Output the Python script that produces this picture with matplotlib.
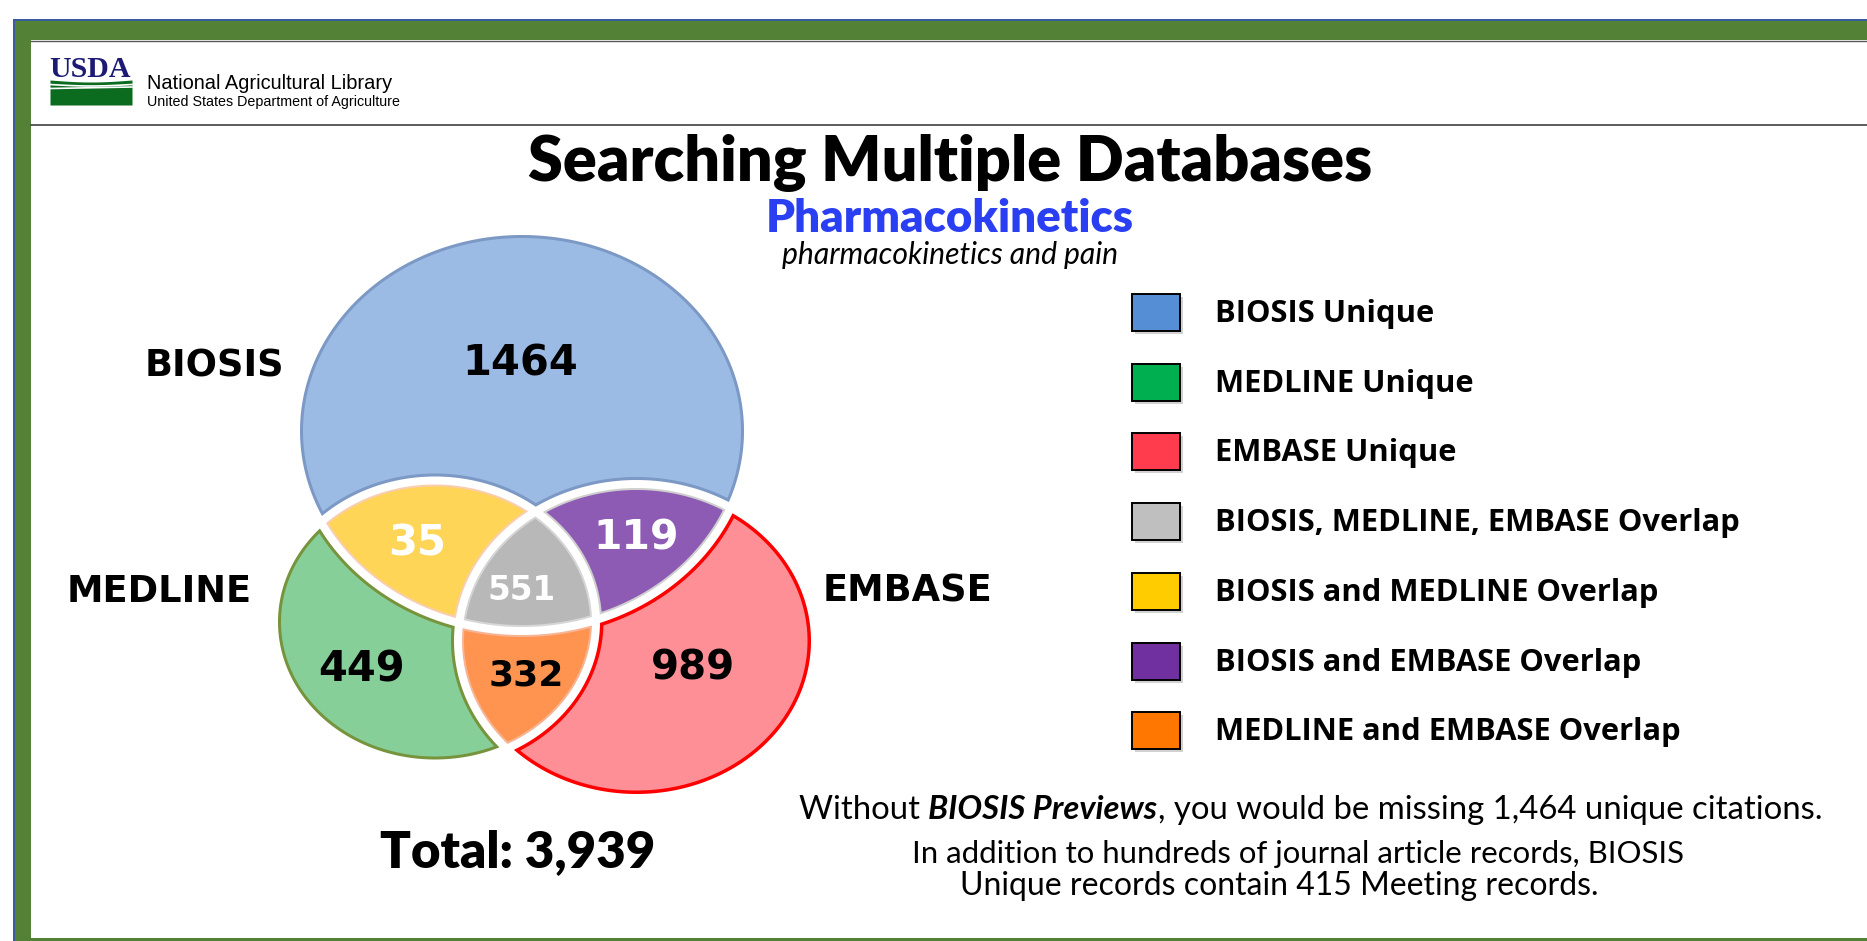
import numpy as np
import matplotlib.pyplot as plt
from matplotlib.patches import Rectangle

W, H = 1867, 941

# data
db_names = ["BIOSIS", "MEDLINE", "EMBASE"]
regions = ["BIOSIS Unique", "MEDLINE Unique", "EMBASE Unique",
           "BIOSIS, MEDLINE, EMBASE Overlap", "BIOSIS and MEDLINE Overlap",
           "BIOSIS and EMBASE Overlap", "MEDLINE and EMBASE Overlap"]
counts = [1464, 449, 989, 551, 35, 119, 332]
members = [(1, 0, 0), (0, 1, 0), (0, 0, 1), (1, 1, 1), (1, 1, 0), (1, 0, 1), (0, 1, 1)]
meeting_records = 415

# styles
legend_colors = ["#558ED5", "#00B050", "#FF3B4E", "#BFBFBF", "#FFCC00", "#7030A0", "#FF7700"]
venn_fill = ["#9BBAE4", "#86CF98", "#FF8F97", "#B8B8B8", "#FFD557", "#8E5BB4", "#FF9450"]
venn_edge = ["#7C98C4", "#77933C", "#FF0000", "#D6D6D6", "#F9CDB0", "#CFCFCF", "#F7B596"]
edge_w = [3, 3, 3.5, 2, 2, 2, 2]
num_color = ["black", "black", "black", "white", "white", "white", "black"]
num_size = [30, 30, 29, 23.5, 30, 29.5, 26]
green = "#538135"
blue_line = "#3A5BA0"

# layout (pixels)
ellipses = [(522, 431, 226, 200), (435, 622, 161, 141.5), (636.5, 641, 178.5, 157)]
label_pos = [(520, 364), (362, 669), (693, 669), (522, 590), (417, 544), (636, 538), (526, 676)]
name_pos = [(214, 366), (159, 591), (907, 591)]
half_gap = 4.0

fig = plt.figure(figsize=(W / 100, H / 100), dpi=100)
ax = fig.add_axes([0, 0, 1, 1])
ax.set_xlim(0, W)
ax.set_ylim(H, 0)
ax.axis("off")
renderer = fig.canvas.get_renderer()


def fit(t, width):
    bb = t.get_window_extent(renderer)
    t.set_fontsize(t.get_fontsize() * width / bb.width)
    return t


# frame
ax.add_patch(Rectangle((14, 19), W, 2, color=blue_line, lw=0))
ax.add_patch(Rectangle((13, 19), 2, H, color=blue_line, lw=0))
ax.add_patch(Rectangle((15, 21), W, 19, color=green, lw=0))
ax.add_patch(Rectangle((15, 21), 16, H, color=green, lw=0))
ax.add_patch(Rectangle((15, 938), W, 5, color=green, lw=0))
ax.plot([31, W], [40.5, 40.5], color="#5A5A5A", lw=1)
ax.plot([31, W], [125, 125], color="#404040", lw=1.2)

# logo
ax.text(49, 77, "USDA", family="Liberation Serif", weight="bold", fontsize=21.5,
        color="#1C1A73", ha="left", va="baseline")
lx = np.linspace(50, 132, 60)
ax.fill_between(lx, 105, 80 + 2 * np.sin((lx - 50) / 82 * np.pi), color="#0B6B1E", lw=0)
ax.plot(lx, 84.5 + 1.5 * np.sin((lx - 50) / 82 * np.pi), color="white", lw=1.2)
ax.plot(lx, 88.5 - 1.5 * (lx - 50) / 82, color="white", lw=1.2)
fit(ax.text(147, 89, "National Agricultural Library", family="Liberation Sans", fontsize=14,
            color="black", ha="left", va="baseline"), 247)
fit(ax.text(147, 106, "United States Department of Agriculture", family="Liberation Sans",
            fontsize=10, color="black", ha="left", va="baseline"), 252)

# titles
fit(ax.text(950, 181, "Searching Multiple Databases", family="Lato", weight=800,
            fontsize=42, ha="center", va="baseline"), 846)
fit(ax.text(950, 232, "Pharmacokinetics", family="Lato", weight=800, fontsize=32,
            color="#2B3FF2", ha="center", va="baseline"), 368)
fit(ax.text(950, 264, "pharmacokinetics and pain", family="Lato", style="italic",
            fontsize=20, ha="center", va="baseline"), 336)

# venn regions
xs = np.arange(255, 830, 0.5)
ys = np.arange(215, 812, 0.5)
X, Y = np.meshgrid(xs, ys)


def sdist(cx, cy, a, b):
    dx, dy = X - cx, Y - cy
    r = np.sqrt((dx / a) ** 2 + (dy / b) ** 2) + 1e-9
    grad = np.sqrt((dx / a ** 2) ** 2 + (dy / b ** 2) ** 2) / r + 1e-9
    return (r - 1) / grad


fields = [sdist(*e) for e in ellipses]
for i, m in enumerate(members):
    g = np.max([f if inside else -f for f, inside in zip(fields, m)], axis=0)
    g = np.clip(g, -600, 600)
    ax.contourf(X, Y, g, levels=[-700, -half_gap], colors=[venn_edge[i]], antialiased=True)
    ax.contourf(X, Y, g, levels=[-700, -half_gap - edge_w[i]], colors=[venn_fill[i]],
                antialiased=True)
    ax.text(*label_pos[i], f"{counts[i]}", family="DejaVu Sans", weight="bold",
            fontsize=num_size[i], color=num_color[i], ha="center", va="center")

# database names
for name, (x, y) in zip(db_names, name_pos):
    ax.text(x, y, name, family="DejaVu Sans", weight="bold", fontsize=26.5,
            ha="center", va="center")

fit(ax.text(518, 867, f"Total: {sum(counts):,}", family="Lato", weight=800, fontsize=33,
            ha="center", va="baseline"), 275)

# legend
leg_texts = []
for i, (lab, col) in enumerate(zip(regions, legend_colors)):
    yc = 313 + i * 69.7
    ax.add_patch(Rectangle((1135, yc - 16), 48, 37, color="#000000", alpha=0.18, lw=0))
    ax.add_patch(Rectangle((1132, yc - 19), 48, 37, facecolor=col, edgecolor="black", lw=1.4))
    leg_texts.append(ax.text(1215, yc + 1, lab, family="Open Sans", weight="bold",
                             fontsize=20, ha="left", va="center"))
longest = max(leg_texts, key=lambda t: t.get_window_extent(renderer).width)
fit(longest, 526)
for t in leg_texts:
    t.set_fontsize(longest.get_fontsize())

# notes
parts = [("Without ", "normal", "normal"), ("BIOSIS Previews", "bold", "italic"),
         (f", you would be missing {counts[0]:,} unique citations.", "normal", "normal")]
pieces = [ax.text(0, 819, txt, family="Lato", weight=wt, style=st, fontsize=24,
                  ha="left", va="baseline") for txt, wt, st in parts]
total_w = sum(p.get_window_extent(renderer).width for p in pieces)
x = 799
for p in pieces:
    p.set_fontsize(24 * 1024 / total_w)
    p.set_x(x)
    x += p.get_window_extent(renderer).width
fit(ax.text(1298, 863, "In addition to hundreds of journal article records, BIOSIS",
            family="Lato", fontsize=24, ha="center", va="baseline"), 771)
fit(ax.text(1279, 895, f"Unique records contain {meeting_records} Meeting records.",
            family="Lato", fontsize=24, ha="center", va="baseline"), 638)

fig.savefig("out.png", dpi=100, facecolor="white")
